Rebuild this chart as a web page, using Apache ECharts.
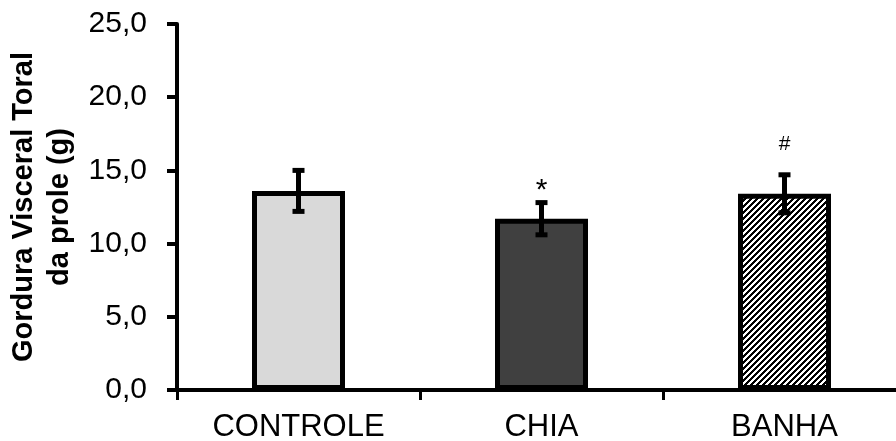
<!DOCTYPE html>
<html>
<head>
<meta charset="utf-8">
<script src="https://cdn.jsdelivr.net/npm/echarts@6/dist/echarts.min.js"></script>
<style>
  html, body { margin: 0; padding: 0; background: #fff; }
  #chart { width: 896px; height: 441px; }
</style>
</head>
<body>
<div id="chart"></div>
<script>
const categories = ['CONTROLE', 'CHIA', 'BANHA']
const means = [13.6, 11.7, 13.4]
const errors = [1.4, 1.1, 1.3]
const marks = ['', '*', '#']
const yTicks = [0, 5, 10, 15, 20, 25]

const FONT = '"Liberation Sans", Arial, Helvetica, sans-serif'

// diagonal hatch for the BANHA bar
function hatch () {
  const n = 6
  const c = document.createElement('canvas')
  c.width = n
  c.height = n
  const ctx = c.getContext('2d')
  const img = ctx.createImageData(n, n)
  for (let y = 0; y < n; y++) {
    for (let x = 0; x < n; x++) {
      const i = (y * n + x) * 4
      const v = (x + y) % n < 3 ? 0 : 255
      img.data[i] = img.data[i + 1] = img.data[i + 2] = v
      img.data[i + 3] = 255
    }
  }
  ctx.putImageData(img, 0, 0)
  return c
}

const fills = ['#d9d9d9', '#404040', { image: hatch(), repeat: 'repeat' }]
const markStyle = { '*': { size: 30, gap: -3 }, '#': { size: 21, gap: 20 } }

const chart = echarts.init(document.getElementById('chart'))
chart.setOption({
  animation: false,
  grid: { left: 177, right: -10, top: 24, bottom: 51, outerBoundsMode: 'none' },
  xAxis: {
    type: 'category',
    data: categories,
    axisLine: { lineStyle: { color: '#000', width: 4 } },
    axisTick: { show: true, length: 10, alignWithLabel: false, lineStyle: { color: '#000', width: 3 } },
    axisLabel: { fontFamily: FONT, fontSize: 31, color: '#000', margin: 22 }
  },
  yAxis: {
    type: 'value',
    min: yTicks[0],
    max: yTicks[yTicks.length - 1],
    interval: yTicks[1] - yTicks[0],
    name: 'Gordura Visceral Toral\nda prole (g)',
    nameLocation: 'middle',
    nameRotate: 90,
    nameGap: 96,
    nameTextStyle: { fontFamily: FONT, fontSize: 29, fontWeight: 'bold', color: '#000', lineHeight: 36, align: 'center' },
    axisLine: { show: true, lineStyle: { color: '#000', width: 4 } },
    axisTick: { show: true, length: 10, lineStyle: { color: '#000', width: 4 } },
    axisLabel: {
      fontFamily: FONT, fontSize: 30, color: '#000', margin: 30,
      formatter: v => v.toFixed(1).replace('.', ',')
    },
    splitLine: { show: false }
  },
  series: [
    {
      type: 'bar',
      barWidth: 93,
      data: means.map((v, i) => ({ value: v, itemStyle: { color: fills[i] } })),
      itemStyle: { borderColor: '#000', borderWidth: 5 }
    },
    {
      type: 'custom',
      z: 5,
      data: means.map((m, i) => [i, m - errors[i], m + errors[i]]),
      renderItem (params, api) {
        const x = api.coord([api.value(0), 0])[0]
        const lo = api.coord([api.value(0), api.value(1)])[1]
        const hi = api.coord([api.value(0), api.value(2)])[1]
        const cap = 6
        const style = { stroke: '#000', lineWidth: 5 }
        const children = [
          { type: 'line', shape: { x1: x, y1: lo, x2: x, y2: hi }, style },
          { type: 'line', shape: { x1: x - cap, y1: hi, x2: x + cap, y2: hi }, style },
          { type: 'line', shape: { x1: x - cap, y1: lo, x2: x + cap, y2: lo }, style }
        ]
        const m = marks[params.dataIndex]
        if (m) {
          children.push({
            type: 'text',
            x: x,
            y: hi - markStyle[m].gap,
            style: {
              text: m, fill: '#000', font: markStyle[m].size + 'px ' + FONT,
              align: 'center', verticalAlign: 'bottom'
            }
          })
        }
        return { type: 'group', children }
      }
    }
  ]
})
</script>
</body>
</html>
